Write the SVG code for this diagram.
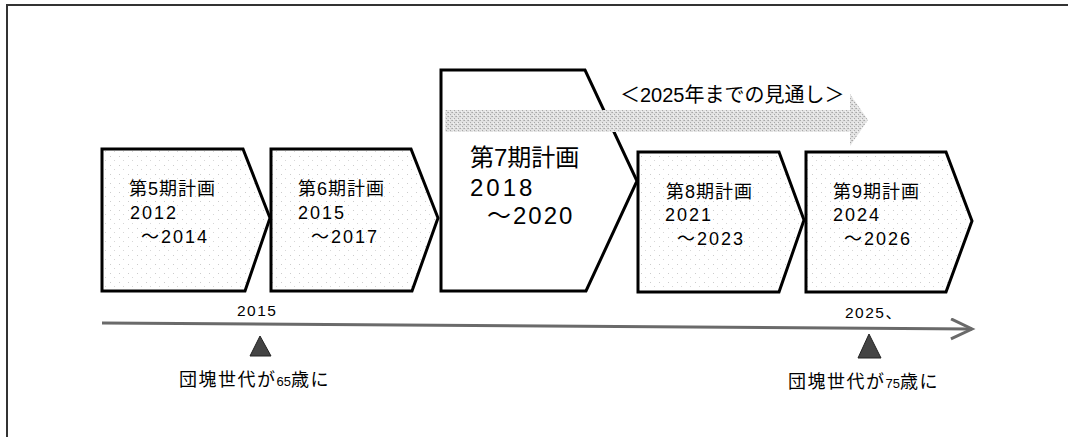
<svg xmlns="http://www.w3.org/2000/svg" width="1068" height="437" viewBox="0 0 1068 437">
<defs>
<pattern id="dots" width="9" height="9" patternUnits="userSpaceOnUse">
<rect width="9" height="9" fill="#ffffff"/>
<rect x="2" y="3" width="1" height="1" fill="#cccccc"/>
<rect x="6" y="7" width="1" height="1" fill="#d6d6d6"/>
</pattern>
<pattern id="dense" width="4" height="4" patternUnits="userSpaceOnUse">
<rect width="4" height="4" fill="#e2e2e2"/>
<rect x="0" y="0" width="1" height="1" fill="#a8a8a8"/>
<rect x="2" y="2" width="1" height="1" fill="#a8a8a8"/>
<rect x="3" y="0" width="1" height="1" fill="#bdbdbd"/>
<rect x="1" y="3" width="1" height="1" fill="#f4f4f4"/>
</pattern>
<marker id="openHead" markerUnits="userSpaceOnUse" markerWidth="30" markerHeight="30" refX="22" refY="11" orient="auto">
<polyline points="1,1 22,11 1,21" fill="none" stroke="#6a6a6a" stroke-width="3"/>
</marker>
</defs>
<style>
.box{stroke:#000;stroke-width:3;stroke-linejoin:miter}
.t{font-family:"Liberation Sans","Noto Sans CJK JP",sans-serif;fill:#000}
.s{font-size:18px;letter-spacing:1px}
.n{font-size:18px;letter-spacing:2px}
.b{font-size:24px}
.lab{font-size:18px;letter-spacing:1.5px}
.yr{font-size:15.5px;letter-spacing:1.5px}
</style>
<rect width="1068" height="437" fill="#fff"/>
<g id="frame" fill="none" stroke="#333" stroke-width="2">
<line x1="6" y1="5" x2="1068" y2="5"/>
<line x1="7" y1="5" x2="7" y2="437"/>
</g>
<g id="plan5">
<polygon class="box" fill="url(#dots)" points="102,149 243,149 270,218 245,291 102,291"/>
<text class="t s" x="129" y="195">第5期計画</text>
<text class="t n" x="130" y="219">2012</text>
<text class="t n" x="141" y="243">～2014</text>
</g>
<g id="plan6">
<polygon class="box" fill="url(#dots)" points="271,149 411,149 438,218 412,291 271,291"/>
<text class="t s" x="298" y="195">第6期計画</text>
<text class="t n" x="298" y="219">2015</text>
<text class="t n" x="311" y="243">～2017</text>
</g>
<g id="plan7">
<polygon class="box" fill="#fff" points="441,70 585,70 637,181 586,291 441,291"/>
<text class="t b" x="470" y="166">第7期計画</text>
<text class="t b" x="470" y="196" style="letter-spacing:3px">2018</text>
<text class="t b" x="487" y="224" style="letter-spacing:2px">～2020</text>
</g>
<g id="plan8">
<polygon class="box" fill="url(#dots)" points="638,152 779,152 804,220 779,292 638,292"/>
<text class="t s" x="666" y="198">第8期計画</text>
<text class="t n" x="665" y="221">2021</text>
<text class="t n" x="677" y="245">～2023</text>
</g>
<g id="plan9">
<polygon class="box" fill="url(#dots)" points="806,152 946,152 972,221 946,292 806,292"/>
<text class="t s" x="833" y="198">第9期計画</text>
<text class="t n" x="833" y="221">2024</text>
<text class="t n" x="844" y="245">～2026</text>
</g>
<g id="outlook">
<polygon fill="url(#dense)" points="445,110 850,110 850,94 868,120 850,146 850,132 445,132"/>
<text class="t" x="620" y="102" font-size="20">＜2025年までの見通し＞</text>
</g>
<g id="connectors">
<line x1="102" y1="323" x2="972" y2="329" stroke="#6a6a6a" stroke-width="3" marker-end="url(#openHead)"/>
</g>
<g id="mark2015">
<text class="t yr" x="237" y="316">2015</text>
<polygon points="260,336 250,356 271,356" fill="#444" stroke="#222" stroke-width="1"/>
<text class="t lab" x="179" y="386">団塊世代が<tspan font-size="13" letter-spacing="0">65</tspan>歳に</text>
</g>
<g id="mark2025">
<text class="t yr" x="845" y="318">2025、</text>
<polygon points="869,334 858,358 881,358" fill="#444" stroke="#222" stroke-width="1"/>
<text class="t lab" x="788" y="388">団塊世代が<tspan font-size="13" letter-spacing="0">75</tspan>歳に</text>
</g>
</svg>
